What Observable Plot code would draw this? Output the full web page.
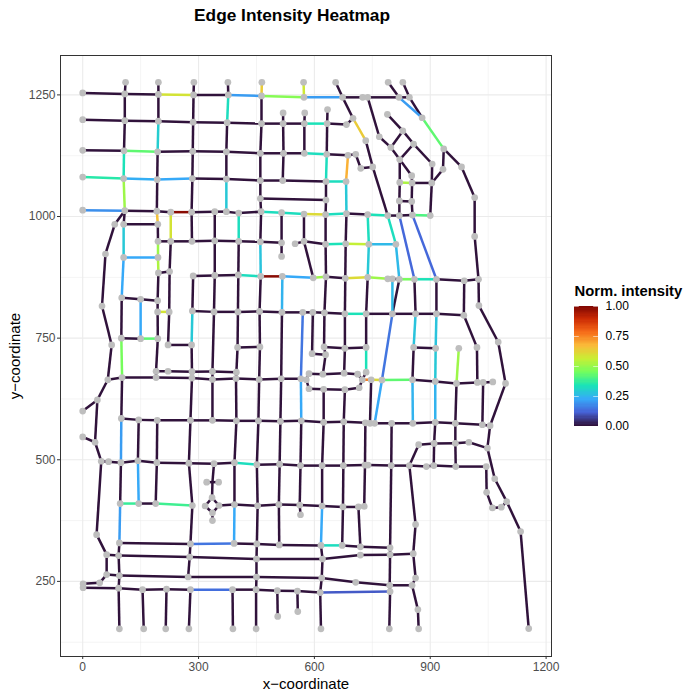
<!DOCTYPE html>
<html>
<head>
<meta charset="utf-8">
<script src="https://cdn.jsdelivr.net/npm/d3@7"></script>
<script src="https://cdn.jsdelivr.net/npm/@observablehq/plot@0.6"></script>
<style>
html,body{margin:0;padding:0;background:#fff;}
#wrap{position:relative;width:700px;height:700px;font-family:"Liberation Sans",Arial,sans-serif;overflow:hidden;}
#wrap>div.t{position:absolute;left:0;width:584px;top:4px;text-align:center;font-weight:bold;font-size:17.3px;line-height:22px;color:#000;}
#chart{position:absolute;left:0;top:0;}
#legend{position:absolute;left:574px;top:270px;}
</style>
</head>
<body>
<div id="wrap"><div id="chart"></div><div id="legend"></div><div class="t">Edge Intensity Heatmap</div></div>
<script>
const xTicks = [0,300,600,900,1200];
const yTicks = [250,500,750,1000,1250];
const xMinor = [150,450,750,1050];
const yMinor = [125,375,625,875,1125];
const legendTicks = [0,0.25,0.5,0.75,1];
const turboStops = ["#30123B","#4662D7","#36AAF9","#1AE4B6","#72FE5E","#C8EF34","#FABA39","#F66B19","#CB2A04","#7A0403"];

// junctions: id, x, y
const topNodes = [["t1",111,1276],["t2",196,1276],["t3",288,1276],["t4",376,1276],["t5",464,1276],["t6",572,1276],["t7",655,1276],["t8",791,1276],["t9",829,1276],
["a0",0,1254],["a1",109,1252],["a2",196,1251],["a3",287,1250],["a4",377,1250],["a5",463,1248],["a6",573,1245],["a7",673,1245],["a8",725,1245],["a9",738,1245],["a10",819,1245],["a11",846,1245],
["b0",0,1199],["b1",109,1197],["b2",196,1196],["b3",286,1194],["b4",374,1193],["b5",463,1191],["b6",519,1191],["b7",574,1191],["b8",633,1191],["b9",683,1189],
["s1",519,1213],["s2",575,1213],["s3",634,1220],["s4",700,1202],["s5",733,1156],["s6",768,1164],
["c0",0,1136],["c1",107,1135],["c2",194,1133],["c3",285,1134],["c4",372,1133],["c5",460,1130],["c6",520,1130],["c7",574,1130],["c8",632,1128],["c9",687,1126],["c10",707,1128],["c11",720,1099],["c12",751,1102],
["d0",0,1081],["d1",106,1078],["d2",193,1076],["d3",284,1078],["d4",372,1077],["d5",460,1074],["d6",518,1074],["d7",630,1072],["d8",682,1072],["q1",460,1037],["q2",630,1034],
["e0",0,1013],["e1",109,1012],["e2",192,1011],["e3",228,1009],["e4",282,1009],["e5",342,1010],["e6",372,1010],["e7",404,1007],["e8",462,1010],["e9",515,1008],["e10",573,1005],["e11",629,1004],["e12",683,1006],["e13",738,1004],["e14",790,1002],["e15",820,1002],["e16",854,1003],["e17",900,1002]];
const clusterNodes = [["r1",879,1203],["r2",935,1139],["r3",981,1102],["r4",1015,1039],["r5",1015,959],["r6",789,1210],["r7",829,1176],["r8",798,1142],["r9",857,1149],["r10",821,1117],["r11",905,1108],["r12",933,1097],["r13",852,1084],["r14",821,1070],["r15",853,1069],["r16",904,1069],["r17",820,1032],["r18",852,1031]];
const midNodes = [["f0",83,984],["f1",106,984],["f2",194.5,984],
["g0",195,949],["g1",228,949],["g2",283,949],["g3",342,950],["g4",404,949],["g5",460,948],["g6",515,946],["g7",550,944],["g8",573,949],["g9",629,943],["g10",681,944],["g11",741,943],["g12",811,943],
["h1",59,923],["h2",106,916],["h3",195,916],["h4",515,918],
["i1",196,884],["i2",225,887],["i3",286,878],["i4",342,879],["i5",403,880],["i6",461,877],["i7",517,877],["i8",597,874],["i9",630,876],["i10",680,873],["i11",738,875],["i12",790,872],["i13",802,872],["i14",820,871],["i15",859,871],["i16",916,871],["i17",988,868],["i18",1025,871],
["j1",101,833],["j2",150,830],["j3",194,827],["j4",50,816],["j5",1026,817],
["k1",194,804],["k2",224,804],["k3",284,806],["k4",340,804],["k5",402,804],["k6",458,805],["k7",516,803],["k8",570,803],["k9",596,803],["k10",626,802],["k11",679,800],["k12",734,800],["k13",802,800],["k14",862,800],["k15",916,800],["k16",987,797],
["l1",100,750],["l2",150,749],["l3",194.5,749],["l4",75,736],["l5",221,736],["l6",282,736],
["m1",401,731],["m2",459,732],["m3",625,732],["m4",679,729],["m5",734,731],["m6",857,731],["m7",914,729],["m8",974,729],["m9",1021,731],["m10",1076,742],["m11",594,718],["m12",629,716],
["n1",190,682],["n2",221,682],["n3",283,681],["n4",336,681.5],["n5",398,680],
["o0",65,664.5],["o1",102,669],["o2",190,669],["o3",283,668],["o4",336,665],["o5",397,667],["o6",457,665],["o7",514,666.5],["o8",565,666.5],["o9",579,664.5],["o10",747,664.5],["o11",775,664],["o12",854,664.5],["o13",913,661],["o14",968,657],["o15",1022,659],["o16",1037,659],["o17",1062,660],["o18",1095,657],
["p1",586,677],["p2",622,676],["p3",677,678],["p4",712,676],["p5",734,680],["p6",724,664.5],["p7",716,648],["p8",679,644],["p9",624,645],["p10",586,646]];
const lowNodes = [["u1",38,623],["u2",0,600],["u3",0,547],["u4",32,536],
["v1",100,585],["v2",145,582],["v3",193,581],["v4",279,581],["v5",336,581],["v6",398,580],["v7",455,580],["v8",512,579],["v9",566,580],["v10",624,577],["v11",676,578],["v12",732,576],["v13",744,575],["v14",756,575],["v15",800,575],["v16",855,575],["v17",913,577],["v18",965,575],["v19",1035,572],["v20",1055,570],
["w1",870,531],["w2",910,533.5],["w3",965,534],["w4",1000,536],["w5",1048,524],
["x0",48,497],["x1",67,496],["x2",99,494],["x3",143,498],["x4",192,494],["x5",275,493],["x6",340,492],["x7",393,494],["x8",451,490],["x9",510,491],["x10",564,488],["x11",620,488],["x12",675,488],["x13",731,489],["x14",739,489],["x15",799,488],["x16",846,488],["x17",890,486],["x18",909,488],["x19",966,486],["x20",1045,486],
["y1",1067,461],["y2",1046,433],["y3",1061,401],["y4",1084,402.5],["y5",1098,414],["y6",1134,352.5],["y7",1155,153],
["z0",336,454],["z1",321,454],["z2",352,454],["z3",335,422],["z4",317,405],["z5",353,406],["z6",336,391],["z7",336,375],
["aa1",97,410],["aa2",145,410],["aa3",189,410],["aa4",284,406],["aa5",393,408],["aa6",453,405.5],["aa7",508,408],["aa8",562,407],["aa9",620,405],["aa10",674,403],["aa11",714,403],["aa12",729,404],["aa13",564,387],["ab",862,367],["ab2",36,346],
["ac1",95,329],["ac2",279,327],["ac3",392,328],["ac4",451,327],["ac5",509,325],["ac6",617,324],["ac7",672,324],["ac8",719,321],["ac9",796,319],
["ad0",62,305],["ad1",93,303],["ad2",277,300],["ad3",450,296],["ad4",621,296],["ad5",719,304],["ad6",796,305],["ad7",856,307],
["ae0",62,264],["ae1",95,262],["ae2",273,259],["ae3",450,259],["ae4",619,257],["ae5",707,248],["ae6",795,242],["ae7",853,242],["ae8",862,257],["ae9",44,247],["ae10",1,245],["ae11",1,237],
["af1",93,236],["af2",155,233],["af3",217,234],["af4",279,233],["af5",388,233],["af6",449,233],["af7",504,231],["af8",556,230],["af9",615,227],["af10",796,229],["af11",868,192],
["ag1",95,152.5],["ag2",158,152.5],["ag3",215,152.5],["ag4",275,152.5],["ag5",389,152.5],["ag6",449,152.5],["ag7",617,152.5],["ag8",794,152.5],["ag9",870,152.5],["ah1",505,178],["ah2",557,188]];
const hiddenNodes = ["z0"];

// runs of zero-intensity edges
const quietRuns = [
"a0 a1 a2","a3 a4","a7 a8 a9 a10 a11","b0 b1 b2 b3 b4 b5 b6 b7","b8 b9","c0 c1","c2 c3 c4 c5 c6 c7","c8 c9 c10 c11 c12",
"d3 d4 d5 d6 d7","q1 q2","e1 e2 e3","e4 e5 e6 e7 e8","e12 e13","e14 e15 e16",
"t1 a1 b1 c1","t2 a2 b2","c2 d2 e2","t3 a3 b3 c3 d3 e4 g2","t4 a4","b4 c4 d4",
"a5 b5 c5 d5 q1 e8 g5","i6 k6 m2 o6 v7 x8 aa6 ac4 ad3 ae3 af6 ag6","s1 b6 c6 d6","s2 b7 c7","s3 b8 c8",
"d7 q2 e11 g9 i9 k10 m3 m12 p2","t7 a7 s4","s4 b9","s5 c12 e14","a9 s6 r8","e12 g10 i10 k11 m4 p3","p8 v11 x12 aa10 ac7",
"p9 v10 x11 aa9","ac6 ad4 ae4 af9 ag7","g4 i5 k5 m1 n5 o5 v6 x7 aa5","e9 g6 h4","k7 o7 v8 x9 aa7 ac5","e10 g8 i8","g7 g8 g9",
"f1 f2","f0 e1 f1","f2 g0","i1 j3 k1 l3 n1 n2 n3 n4 n5","g0 g1 g2 g3 g4 g5 g6","g1 i2 k2 l5 l6 n3 o3 v4 x5 aa4 ac2 ad2 ae2",
"i1 i2","j1 l1","j1 j2 j3","l1 l2","i3 i4 i5","i9 i10","i12 i13 i14","i16 i17 i18","i3 k3","k3 k4 k5 k6 k7 k8 k9 k10 k11","k12 k13 k14 k15 k16",
"e5 g3 i4 k4 n4 o4 v5","k9 m11 m12","i11 k12 m5","p5 p6","i14 k13","i15 k14","m6 o12","i16 k15","m6 m7","i17 k16 m9 o15","o14 v18 w3 x19",
"r4 r5 i18 j5 m10 o18 v20 w5 y1 y5 y6 y7","o16 v19","o15 o16 o17","o0 o1 o2 o3 o4 o5 o6 o7 o8 o9","o9 p1 p2 p3 p4 p6 p7 p8 p9 p10 o9","o12 o13 o14 o15",
"o10 v13","n1 o2","o1 v1","x2 aa1","v1 v2 v3 v4 v5 v6 v7 v8 v9 v10 v11 v12 v13 v14 v15 v16 v17 v18 v19 v20","v2 x3","v3 x4 aa3",
"f0 h1 j4 l4 o0 u1 u2","u1 u4","u3 u4 x0 x1 x2 x3 x4 x5 x6 x7","x8 x9 x10 x11 x12 x13 x14 x15 x16 x17 x18 x19 x20",
"x0 ab2 ad0 ad1 ad2 ad3 ad4 ad5 ad6 ad7","ad0 ae0 ae1 ae2 ae3 ae4 ae5 ae6 ae7","ae0 ae9 ae10","ae11 af1 af2 af3 af4","af5 af6 af7 af8 af9",
"ac1 ad1 ae1 af1 ag1","ac1 ac2","ac3 ac4 ac5 ac6","ac7 ac8 ac9","af2 ag2","af3 ag3","af4 ag4","af5 ag5","af7 ah1","af8 ah2",
"x6 z0 z3","z1 z0 z2","z3 z4 z6 z5 z3","z6 z7","z5 aa5 aa6 aa7 aa8 aa9 aa10 aa11 aa12","aa2 aa3","v9 x10 aa8 aa13","v12 x13 aa12","aa11 ac8",
"v15 x15 ac9 ad6 ae6 af10 ag8","x16 ab ad7 ae8 ae7 af11 ag9","w1 x16","w1 w2 w3 w4 w5","v17 w2 x18","x20 y2 y3 y4 y5",
"m1 m2","m3 m4 m5","t8 a10","t9 a11 r1","r2 r3 r4","r2 r12 r16","r11 r16 e17","r9 r11","r7 r9","r6 r7","r7 r8","r8 r10","r9 r10","r10 r13 r15","r10 r14 r17 e15","r15 r18 e16","r15 r16","r17 r18"
];

// edges with a visible intensity
const hotEdges = [
["a2","a3",.58],["a4","a5",.2],["a5","a6",.47],["a6","a7",.2],["b7","b8",.33],["c1","c2",.42],["c7","c8",.32],
["d0","d1",.35],["d1","d2",.23],["d2","d3",.22],["d7","d8",.32],["e0","e1",.18],["e3","e4",.98],["e8","e9",.32],["e9","e10",.32],["e10","e11",.6],["e11","e12",.32],["e13","e14",.33],["e16","e17",.4],
["c1","d1",.33],["d1","e1",.5],["b2","c2",.29],["e2","f2",.65],["a4","b4",.32],["d4","e6",.28],["t5","a5",.63],["g5","i6",.27],["t6","a6",.57],["c8","d7",.32],["s4","s5",.63],["c9","d8",.68],["d8","e12",.28],
["e7","g4",.32],["aa5","ac3",.22],["i7","k7",.24],["aa9","ac6",.22],["g0","h3",.5],["h3","i1",.52],["g9","g10",.33],["g10","g11",.55],["g11","g12",.25],["e3","g1",.58],
["f1","h2",.28],["h2","h3",.22],["h2","j1",.22],["j2","l2",.22],["l2","l3",.42],["l1","o1",.45],["k1","k2",.58],
["i5","i6",.32],["i6","i7",.98],["i7","i8",.22],["i8","i9",.5],["i10","i11",.6],["i11","i12",.5],["i14","i15",.45],["i15","i16",.33],["k3","l6",.28],["k11","k12",.33],
["k8","o8",.14],["o8","v9",.22],["e13","g11",.32],["g11","i11",.28],["m5","p5",.33],["e14","g12",.32],["g12","i14",.25],["i13","k13",.25],["k13","o11",.14],["o11","v14",.22],
["e15","i15",.12],["e16","i16",.12],["k14","m6",.27],["o12","v16",.24],["k15","m7",.27],["m7","o13",.28],["o13","v17",.24],["m8","o14",.5],
["p6","o10",.75],["o10","o11",.6],["o11","o12",.42],["v1","x2",.2],["aa1","ac1",.2],["x3","aa2",.22],["x7","x8",.32],["aa1","aa2",.37],["aa3","aa4",.38],
["af4","af5",.13],["af9","af10",.1],["ac2","ac3",.14],["ac6","ac7",.32],["a10","r1",.2],["r1","r2",.42],["r14","r15",.52]
];

const nodes = [...topNodes, ...clusterNodes, ...midNodes, ...lowNodes].map(([id,x,y]) => ({id,x,y}));
const byId = new Map(nodes.map(n => [n.id,n]));
const edges = [];
function addEdge(a,b,v){ const p=byId.get(a), q=byId.get(b); edges.push({x1:p.x,y1:p.y,x2:q.x,y2:q.y,v}); }
for (const run of quietRuns){ const ids=run.split(" "); for(let i=1;i<ids.length;i++) addEdge(ids[i-1],ids[i],0); }
for (const [a,b,v] of hotEdges) addEdge(a,b,v);
edges.sort((p,q)=>p.v-q.v);

const colorOpts = {type:"linear",domain:[0,1],interpolate:d3.piecewise(d3.interpolateRgb,turboStops)};
const font = '"Liberation Sans",Arial,sans-serif';

const chart = Plot.plot({
  width:700,height:700,marginLeft:60,marginRight:149,marginTop:55,marginBottom:44,
  style:{fontFamily:font,background:"#fff"},
  x:{domain:[-57.5,1214],label:null},
  y:{domain:[95.6,1331],label:null},
  color:colorOpts,
  marks:[
    Plot.ruleX(xMinor,{stroke:"#EBEBEB",strokeWidth:0.55}),
    Plot.ruleY(yMinor,{stroke:"#EBEBEB",strokeWidth:0.55}),
    Plot.ruleX(xTicks,{stroke:"#EBEBEB",strokeWidth:1.1}),
    Plot.ruleY(yTicks,{stroke:"#EBEBEB",strokeWidth:1.1}),
    Plot.link(edges,{x1:"x1",y1:"y1",x2:"x2",y2:"y2",stroke:"v",strokeWidth:2.5,strokeLinecap:"butt"}),
    Plot.dot(nodes.filter(n=>!hiddenNodes.includes(n.id)),{x:"x",y:"y",r:3.35,fill:"#BEBEBE",stroke:"none"}),
    Plot.frame({stroke:"#333333",strokeWidth:1}),
    Plot.axisX({ticks:xTicks,tickSize:3,tickPadding:3,label:null,fontSize:12,color:"#4D4D4D",stroke:"#333",tickFormat:d=>String(d)}),
    Plot.axisY({ticks:yTicks,tickSize:3,tickPadding:2,label:null,fontSize:12,color:"#4D4D4D",stroke:"#333",tickFormat:d=>String(d)}),
    Plot.text(["x\u2212coordinate"],{frameAnchor:"bottom",dy:32,fontSize:15,fill:"#000"}),
    Plot.text(["y\u2212coordinate"],{frameAnchor:"left",dx:-45,rotate:-90,fontSize:15,fill:"#000",textAnchor:"middle"})
  ]
});
document.getElementById("chart").appendChild(chart);

const steps = d3.range(0,100).map(i=>i/100);
const legend = Plot.plot({
  width:126,height:170,marginLeft:0,marginRight:102,marginTop:36,marginBottom:14,
  style:{fontFamily:font,background:"transparent",overflow:"visible"},
  x:{domain:[0,1],axis:null},
  y:{domain:[0,1],label:null},
  color:colorOpts,
  marks:[
    Plot.rect(steps,{x1:0,x2:1,y1:d=>d,y2:d=>Math.min(1,d+0.02),fill:d=>d,shapeRendering:"crispEdges"}),
    Plot.ruleY(legendTicks,{x1:0,x2:0.2,stroke:"#fff",strokeWidth:0.7,strokeOpacity:0.8}),
    Plot.ruleY(legendTicks,{x1:0.8,x2:1,stroke:"#fff",strokeWidth:0.7,strokeOpacity:0.8}),
    Plot.axisY({anchor:"right",ticks:legendTicks,tickSize:0,tickPadding:7,fontSize:12,color:"#000",label:null,tickFormat:d3.format(".2f")}),
    Plot.text(["Norm. intensity"],{frameAnchor:"top-left",dy:-21,fontSize:14.8,fontWeight:"bold",fill:"#000",textAnchor:"start"})
  ]
});
document.getElementById("legend").appendChild(legend);
</script>
</body>
</html>
